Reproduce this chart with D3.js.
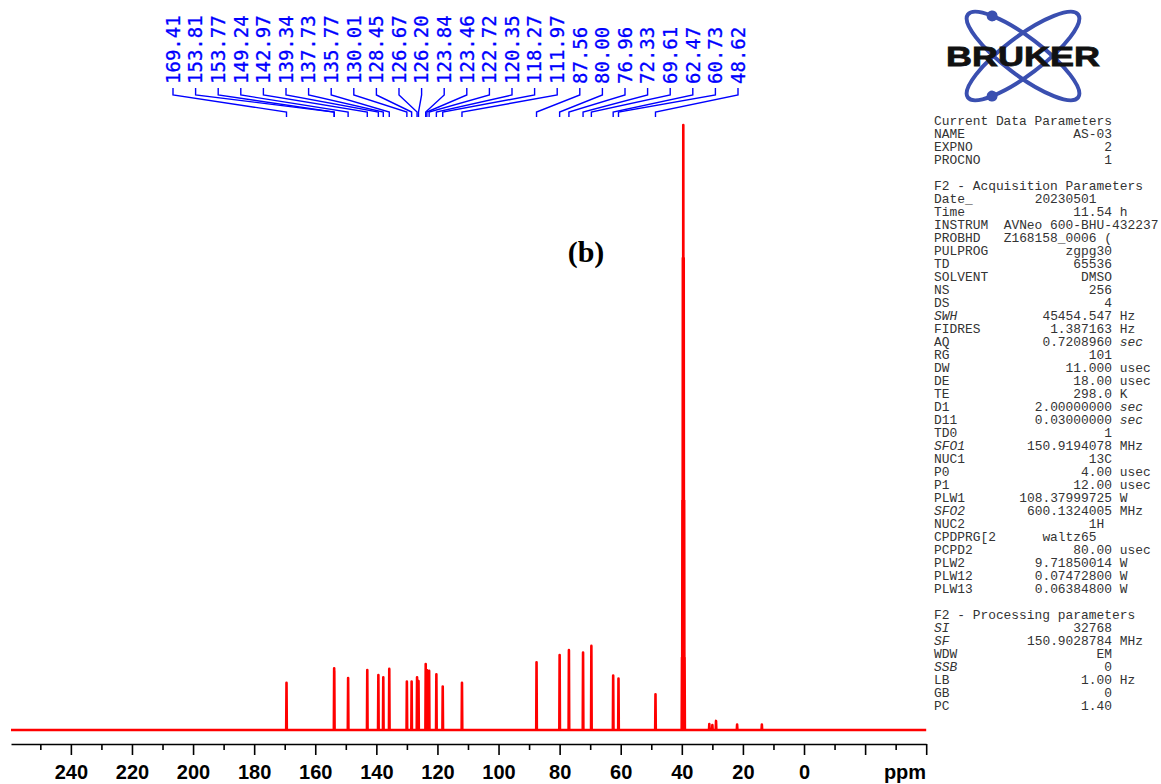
<!DOCTYPE html>
<html>
<head>
<meta charset="utf-8">
<script src="https://cdn.jsdelivr.net/npm/d3@7"></script>
<style>
  body { margin: 0; background: #fff; }
  svg { display: block; }
</style>
</head>
<body>
<div id="chart"></div>
<script>
// 13C spectrum, peak list (heights in % of the DMSO line)
const peakLabels = ["169.41","153.81","153.77","149.24","142.97","139.34","137.73","135.77","130.01","128.45",
                    "126.67","126.20","123.84","123.46","122.72","120.35","118.27","111.97","87.56","80.00",
                    "76.96","72.33","69.61","62.47","60.73","48.62"]
const peakShifts = [169.41,153.81,153.77,149.24,142.97,139.34,137.73,135.77,130.01,128.45,
                    126.67,126.20,123.84,123.46,122.72,120.35,118.27,111.97,87.56,80.00,
                    76.96,72.33,69.61,62.47,60.73,48.62]
const peakHeights = [7.8,10.2,9.8,8.6,9.9,9.1,8.7,10.1,8.0,8.0,
                     8.7,8.1,10.9,9.9,9.8,9.2,7.2,7.8,11.2,12.4,
                     13.2,12.8,13.9,9.0,8.5,5.9]
// DMSO-d6 septet
const solventShifts = [39.94,39.80,39.66,39.52,39.38,39.24,39.10]
const solventHeights = [12,38,78,100,78,38,12]
// small unlabelled signals
const minorShifts = [31.0,30.0,28.8,21.9,13.8]
const minorHeights = [1.0,0.8,1.5,0.9,0.9]

const axisTicks = d3.range(-40, 251, 10)
const axisLabels = [240,220,200,180,160,140,120,100,80,60,40,20,0]

const dataParams = [["NAME","AS-03"],["EXPNO","2"],["PROCNO","1"]]
const acqParams = [
    ["Date_","20230501","",21],["Time","11.54","h"],["INSTRUM","AVNeo 600-BHU-432237","",-9],
    ["PROBHD","Z168158_0006 (","",-9],["PULPROG","zgpg30"],["TD","65536"],["SOLVENT","DMSO"],
    ["NS","256"],["DS","4"],["SWH","45454.547","Hz"],["FIDRES","1.387163","Hz"],
    ["AQ","0.7208960","sec"],["RG","101"],["DW","11.000","usec"],["DE","18.00","usec"],
    ["TE","298.0","K"],["D1","2.00000000","sec"],["D11","0.03000000","sec"],["TD0","1"],
    ["SFO1","150.9194078","MHz"],["NUC1","13C"],["P0","4.00","usec"],["P1","12.00","usec"],
    ["PLW1","108.37999725","W"],["SFO2","600.1324005","MHz"],["NUC2","1H","",22],
    ["CPDPRG[2","waltz65","",21],["PCPD2","80.00","usec"],["PLW2","9.71850014","W"],
    ["PLW12","0.07472800","W"],["PLW13","0.06384800","W"]]
const procParams = [["SI","32768"],["SF","150.9028784","MHz"],["WDW","EM"],["SSB","0"],
    ["LB","1.00","Hz"],["GB","0"],["PC","1.40"]]
const italicLabels = ["SWH","SFO1","SFO2","SI","SF","SSB"]
const italicUnits = ["sec"]

var width = 1161,
    height = 784

var svg = d3.select("#chart").append("svg")
    .attr("width", width)
    .attr("height", height)

svg.append("rect")
    .attr("width", width)
    .attr("height", height)
    .attr("fill", "white")

const x = d3.scaleLinear().domain([259.6, -40]).range([11, 926.2])
const y = d3.scaleLinear().domain([0, 100]).range([730, 125])

// spectrum trace
var signals = []
peakShifts.forEach((p, i) => signals.push([p, peakHeights[i]]))
solventShifts.forEach((p, i) => signals.push([p, solventHeights[i]]))
minorShifts.forEach((p, i) => signals.push([p, minorHeights[i]]))
signals.sort((a, b) => b[0] - a[0])

var trace = [[x.domain()[0], 0]]
signals.forEach(s => {
    trace.push([s[0] + 0.1, 0])
    trace.push([s[0], s[1]])
    trace.push([s[0] - 0.1, 0])
})
trace.push([x.domain()[1], 0])

svg.append("path")
    .datum(trace)
    .attr("d", d3.line().x(d => x(d[0])).y(d => y(d[1])))
    .attr("fill", "none")
    .attr("stroke", "#ff0000")
    .attr("stroke-width", 2.6)
    .attr("stroke-linejoin", "round")

// peak labels, spread evenly like topspin does
const labelX = d3.scalePoint().domain(peakLabels).range([173, 738])

svg.append("g")
    .selectAll("path")
    .data(peakLabels)
    .enter()
    .append("path")
    .attr("d", (d, i) => {
        var lx = labelX(d), px = x(peakShifts[i])
        return "M" + lx + ",88V95L" + px + ",112V117"
    })
    .attr("fill", "none")
    .attr("stroke", "#0000ff")
    .attr("stroke-width", 1.4)

svg.append("g")
    .selectAll("text")
    .data(peakLabels)
    .enter()
    .append("text")
    .attr("transform", d => "translate(" + labelX(d) + ",84) rotate(-90)")
    .attr("dy", "0.36em")
    .attr("font-family", "DejaVu Sans Mono")
    .attr("font-size", 19)
    .attr("fill", "#0000ff")
    .attr("stroke", "#0000ff")
    .attr("stroke-width", 0.3)
    .text(d => d)

// x axis
var xAxis = d3.axisBottom(x)
    .tickValues(axisTicks)
    .tickSizeOuter(0)
    .tickFormat(d => axisLabels.includes(d) ? d : "")

var gx = svg.append("g")
    .attr("transform", "translate(0,744)")
    .call(xAxis)

gx.select(".domain").attr("stroke", "black").attr("stroke-width", 1.6)
gx.selectAll(".tick line")
    .attr("stroke", "black")
    .attr("stroke-width", 1.6)
    .attr("y2", d => d % 20 == 0 ? 11 : 6)
gx.selectAll(".tick text")
    .attr("y", 35)
    .attr("dy", 0)
    .attr("font-family", "Liberation Sans, Arial, sans-serif")
    .attr("font-weight", "bold")
    .attr("font-size", 20)
    .attr("fill", "black")

svg.append("text")
    .attr("x", 905)
    .attr("y", 779)
    .attr("text-anchor", "middle")
    .attr("font-family", "Liberation Sans, Arial, sans-serif")
    .attr("font-weight", "bold")
    .attr("font-size", 20)
    .text("ppm")

svg.append("text")
    .attr("x", 586)
    .attr("y", 262)
    .attr("text-anchor", "middle")
    .attr("font-family", "Liberation Serif, Times New Roman, serif")
    .attr("font-weight", "bold")
    .attr("font-size", 30)
    .text("(b)")

// Bruker logo
const logo = svg.append("g").attr("transform", "translate(1023,56)")
const logoBlue = "#3a4fb0"
;[37, -37].forEach((ang, k) => {
    logo.append("ellipse")
        .attr("rx", 69)
        .attr("ry", 19)
        .attr("transform", "rotate(" + ang + ")")
        .attr("fill", "none")
        .attr("stroke", logoBlue)
        .attr("stroke-width", 4)
    var t = (k == 0 ? -135 : 135) * Math.PI / 180
    logo.append("circle")
        .attr("cx", 69 * Math.cos(t))
        .attr("cy", 19 * Math.sin(t))
        .attr("r", 5.5)
        .attr("transform", "rotate(" + ang + ")")
        .attr("fill", logoBlue)
})
logo.append("text")
    .attr("x", -77)
    .attr("y", 10)
    .attr("textLength", 154)
    .attr("lengthAdjust", "spacingAndGlyphs")
    .attr("font-family", "Liberation Sans, Arial, sans-serif")
    .attr("font-weight", "bold")
    .attr("font-size", 27)
    .attr("fill", "#111")
    .attr("stroke", "#111")
    .attr("stroke-width", 0.8)
    .text("BRUKER")

// parameter block
const px0 = 934, cw = 7.74, lineH = 13
var lines = []
lines.push({head: "Current Data Parameters"})
dataParams.forEach(r => lines.push({row: r}))
lines.push({})
lines.push({head: "F2 - Acquisition Parameters"})
acqParams.forEach(r => lines.push({row: r}))
lines.push({})
lines.push({head: "F2 - Processing parameters"})
procParams.forEach(r => lines.push({row: r}))

const pg = svg.append("g")
    .attr("font-family", "Liberation Mono, Courier New, monospace")
    .attr("font-size", 12.9)
    .attr("fill", "#333")

lines.forEach((ln, i) => {
    var yy = 125 + i * lineH
    if (ln.head) {
        pg.append("text").attr("x", px0).attr("y", yy).text(ln.head)
    }
    if (ln.row) {
        var r = ln.row
        pg.append("text").attr("x", px0).attr("y", yy)
            .attr("font-style", italicLabels.includes(r[0]) ? "italic" : null)
            .text(r[0])
        var col = r[3] || 23
        if (col < 0) {
            pg.append("text").attr("x", px0 - col * cw).attr("y", yy).text(r[1])
        } else {
            pg.append("text").attr("x", px0 + col * cw).attr("y", yy)
                .attr("text-anchor", "end").text(r[1])
        }
        if (r[2]) {
            pg.append("text").attr("x", px0 + 24 * cw).attr("y", yy)
                .attr("font-style", italicUnits.includes(r[2]) ? "italic" : null)
                .text(r[2])
        }
    }
})
</script>
</body>
</html>
